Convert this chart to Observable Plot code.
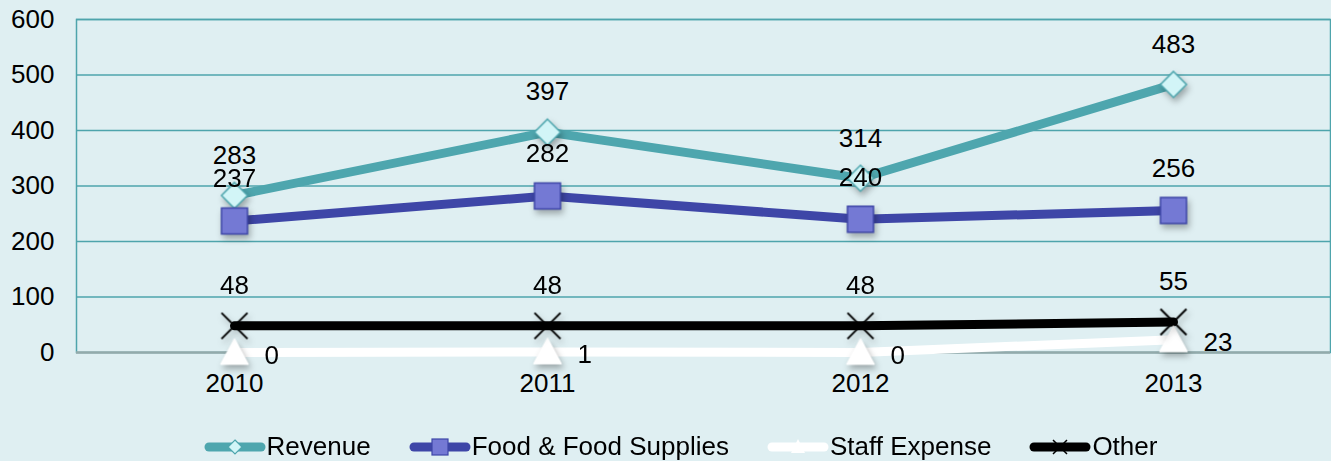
<!DOCTYPE html>
<html>
<head>
<meta charset="utf-8">
<script src="https://cdn.jsdelivr.net/npm/d3@7"></script>
<script src="https://cdn.jsdelivr.net/npm/@observablehq/plot@0.6"></script>
<style>
  html, body { margin: 0; padding: 0; background: #dfeff2; }
  body { width: 1331px; height: 461px; overflow: hidden; font-family: "Liberation Sans", Arial, sans-serif; }
  #legend { display: flex; justify-content: center; align-items: center; gap: 38px; padding-left: 30px; height: 51px; padding-top: 22px; box-sizing: border-box; font-size: 26px; color: #000; }
  .item { display: flex; align-items: center; }
  .item svg { display: block; }
</style>
</head>
<body>
<div id="chart"></div>
<div id="legend"></div>
<script>
const years = ["2010", "2011", "2012", "2013"];
const revenue = [283, 397, 314, 483];
const food = [237, 282, 240, 256];
const staff = [0, 1, 0, 23];
const other = [48, 48, 48, 55];
const seriesNames = ["Revenue", "Food & Food Supplies", "Staff Expense", "Other"];
const yTicks = [0, 100, 200, 300, 400, 500, 600];

const colors = {"Revenue": "#4ea6ae", "Food & Food Supplies": "#3e46a7", "Staff Expense": "#ffffff", "Other": "#000000"};

const rOf = s => Math.sqrt(s / Math.PI);
const diamond = {draw(c, s) { const r = rOf(s); c.moveTo(0, -r); c.lineTo(r, 0); c.lineTo(0, r); c.lineTo(-r, 0); c.closePath(); }};
const square = {draw(c, s) { const r = rOf(s); c.rect(-r, -r, 2 * r, 2 * r); }};
const triangle = {draw(c, s) { const r = rOf(s); c.moveTo(0, -r); c.lineTo(r, r * 0.85); c.lineTo(-r, r * 0.85); c.closePath(); }};
const times = {draw(c, s) { const r = rOf(s); c.moveTo(-r, -r); c.lineTo(r, r); c.moveTo(r, -r); c.lineTo(-r, r); }};

const rows = (name, vals) => years.map((y, i) => ({year: y, value: vals[i], series: name}));
const revRows = rows(seriesNames[0], revenue);
const foodRows = rows(seriesNames[1], food);
const staffRows = rows(seriesNames[2], staff);
const otherRows = rows(seriesNames[3], other);

const font = "Liberation Sans, Arial, sans-serif";
const FS = 26;

const chart = Plot.plot({
  width: 1331,
  height: 410,
  marginLeft: 76,
  marginRight: 1,
  marginTop: 19,
  marginBottom: 58,
  style: {background: "transparent", fontFamily: font, fontSize: FS + "px", color: "#000"},
  x: {type: "point", domain: years, padding: 0.5, label: null},
  y: {domain: [0, 600], ticks: yTicks, label: null},
  marks: [
    Plot.ruleY(yTicks.filter(d => d > 0), {stroke: "#4ea4ac", strokeWidth: 1.5}),
    Plot.frame({stroke: "#4ea4ac", strokeWidth: 1.5}),
    Plot.ruleY([0], {stroke: "#93aaab", strokeWidth: 2.5}),
    Plot.axisY({ticks: yTicks, tickSize: 0, tickPadding: 22, fontSize: FS, label: null}),
    Plot.axisX({tickSize: 0, tickPadding: 21, fontSize: FS, label: null}),
    Plot.lineY(revRows, {x: "year", y: "value", stroke: colors["Revenue"], strokeWidth: 9, strokeLinejoin: "round", strokeLinecap: "round"}),
    Plot.lineY(foodRows, {x: "year", y: "value", stroke: colors["Food & Food Supplies"], strokeWidth: 9, strokeLinejoin: "round", strokeLinecap: "round"}),
    Plot.lineY(staffRows, {x: "year", y: "value", stroke: "#ffffff", strokeWidth: 9, strokeLinejoin: "round", strokeLinecap: "round"}),
    Plot.lineY(otherRows, {x: "year", y: "value", stroke: "#000000", strokeWidth: 9, strokeLinejoin: "round", strokeLinecap: "round"}),
    Plot.dot(revRows, {x: "year", y: "value", symbol: diamond, r: 13, fill: "#d2f5f7", stroke: "#4ea6ae", strokeWidth: 1.5}),
    Plot.dot(foodRows, {x: "year", y: "value", symbol: square, r: 13, fill: "#7479d4", stroke: "#3e46a7", strokeWidth: 1.5}),
    Plot.dot(staffRows, {x: "year", y: "value", symbol: triangle, r: 14, fill: "#ffffff", stroke: "#ffffff", strokeWidth: 1}),
    Plot.dot(otherRows, {x: "year", y: "value", symbol: times, r: 13, fill: "none", stroke: "#000000", strokeWidth: 2}),
    Plot.text(revRows, {x: "year", y: "value", text: d => String(d.value), dy: -40, fontSize: FS, fill: "#000"}),
    Plot.text(foodRows, {x: "year", y: "value", text: d => String(d.value), dy: -42, fontSize: FS, fill: "#000"}),
    Plot.text(otherRows, {x: "year", y: "value", text: d => String(d.value), dy: -40, fontSize: FS, fill: "#000"}),
    Plot.text(staffRows, {x: "year", y: "value", text: d => String(d.value), dx: 30, dy: 3, textAnchor: "start", fontSize: FS, fill: "#000"})
  ]
});
chart.querySelectorAll('g[aria-label="dot"]').forEach(g => g.style.filter = "drop-shadow(2px 4px 3px rgba(0,0,0,0.3))");
document.getElementById("chart").appendChild(chart);

// legend
const legendMarkers = {
  "Revenue": `<path d="M31,-7 L38,0 L31,7 L24,0 Z" transform="translate(0,12)" fill="#d2f5f7" stroke="#4ea6ae" stroke-width="1.2"/>`,
  "Food & Food Supplies": `<rect x="23" y="4" width="16" height="16" fill="#7479d4" stroke="#3e46a7" stroke-width="1.2"/>`,
  "Staff Expense": `<path d="M31,4 L38,18 L24,18 Z" fill="#ffffff"/>`,
  "Other": `<path d="M24,5 L38,19 M38,5 L24,19" stroke="#000" stroke-width="1.5"/>`
};
const legend = document.getElementById("legend");
seriesNames.forEach(name => {
  const item = document.createElement("div");
  item.className = "item";
  item.innerHTML = `<svg width="63" height="24" viewBox="0 0 63 24"><line x1="5" y1="12" x2="57" y2="12" stroke="${colors[name]}" stroke-width="9" stroke-linecap="round"/>${legendMarkers[name]}</svg><span>${name}</span>`;
  legend.appendChild(item);
});
</script>
</body>
</html>
